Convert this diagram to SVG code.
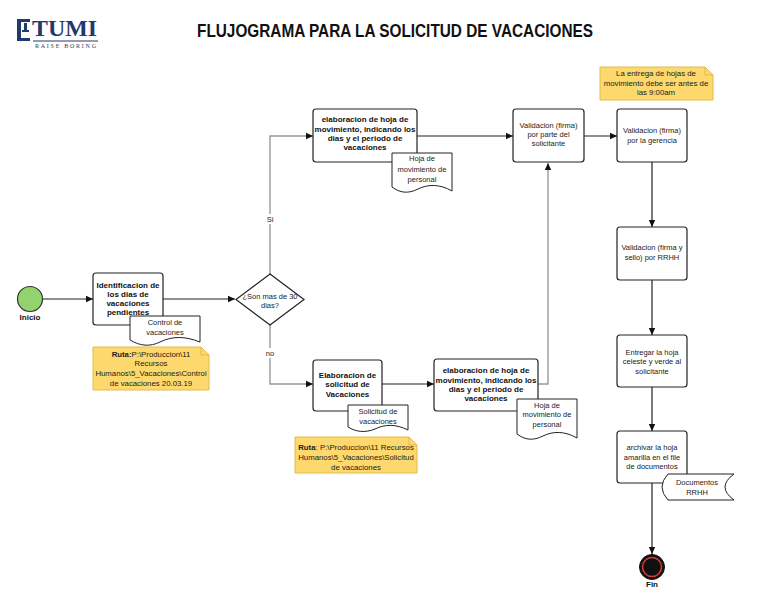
<svg xmlns="http://www.w3.org/2000/svg" width="768" height="592" viewBox="0 0 768 592">
<defs>
<marker id="arr" markerWidth="8" markerHeight="8" refX="7" refY="4" orient="auto" markerUnits="userSpaceOnUse">
<path d="M0,0.8 L7,4 L0,7.2 Z" fill="#111"/>
</marker>
<linearGradient id="hl" x1="0" x2="1" y1="0" y2="0">
<stop offset="0" stop-color="#bbb"/>
<stop offset="0.5" stop-color="#888"/>
<stop offset="1" stop-color="#ccc"/>
</linearGradient>
<style>
.box{fill:#fff;stroke:#222;stroke-width:1.2}
.doc{fill:#fff;stroke:#222;stroke-width:1}
.note{fill:#fdd86c;stroke:#e0bc52;stroke-width:1}
.b{font-family:"Liberation Sans",Arial,sans-serif;font-size:8px;font-weight:bold;fill:#111;text-anchor:middle}
.t{font-family:"Liberation Sans",Arial,sans-serif;font-size:7.5px;fill:#222;text-anchor:middle}
.n{font-family:"Liberation Sans",Arial,sans-serif;font-size:7.8px;fill:#222;text-anchor:middle}
.c{fill:none;stroke:#222;stroke-width:1.2}
.g{fill:none;stroke:#999;stroke-width:1.4}
</style>
</defs>
<rect width="768" height="592" fill="#fff"/>

<g id="header">
<g fill="#1f3a6b">
<rect x="17" y="19" width="4" height="19"/>
<rect x="17" y="19" width="13" height="3"/>
<rect x="24" y="23" width="3" height="7"/>
<rect x="22" y="30" width="7" height="2"/>
<rect x="17" y="38" width="13" height="3"/>
</g>
<text x="32" y="36" font-family="'Liberation Serif','Times New Roman',serif" font-size="24" font-weight="bold" fill="#1f3a6b" textLength="65" lengthAdjust="spacingAndGlyphs">TUMI</text>
<line x1="33" y1="41" x2="98" y2="41" stroke="#1f3a6b" stroke-width="1"/>
<text x="35" y="47.5" font-family="'Liberation Serif','Times New Roman',serif" font-size="6" fill="#1f3a6b" textLength="61" lengthAdjust="spacing">RAISE BORING</text>
<line x1="99" y1="47" x2="752" y2="47" stroke="url(#hl)" stroke-width="1.5"/>
<text x="395" y="37" font-family="'Liberation Sans',Arial,sans-serif" font-size="18" font-weight="bold" fill="#111" text-anchor="middle" textLength="396" lengthAdjust="spacingAndGlyphs">FLUJOGRAMA PARA LA SOLICITUD DE VACACIONES</text>
</g>

<g id="connectors">
<path class="c" d="M43,299 H93" marker-end="url(#arr)"/>
<path class="c" d="M163,299 H235" marker-end="url(#arr)"/>
<path class="g" d="M270,274 V136 H313" marker-end="url(#arr)"/>
<path class="g" d="M270,325 V384 H313" marker-end="url(#arr)"/>
<path class="c" d="M417,136 H513" marker-end="url(#arr)"/>
<path class="c" d="M584,136 H617" marker-end="url(#arr)"/>
<path class="c" d="M652,162 V227" marker-end="url(#arr)"/>
<path class="c" d="M652,280 V335" marker-end="url(#arr)"/>
<path class="c" d="M652,387 V431" marker-end="url(#arr)"/>
<path class="c" d="M652,483 V554" marker-end="url(#arr)"/>
<path class="c" d="M382,384 H434" marker-end="url(#arr)"/>
<path class="g" d="M538,384 H548 V163" marker-end="url(#arr)"/>
<rect x="263" y="214" width="14" height="10" fill="#fff"/>
<text class="t" x="270" y="222">Si</text>
<rect x="262" y="348" width="16" height="10" fill="#fff"/>
<text class="t" x="270" y="356">no</text>
</g>

<g id="inicio">
<circle cx="30" cy="299" r="12.5" fill="#92d36e" stroke="#333" stroke-width="1.2"/>
<text class="b" x="30" y="320">Inicio</text>
</g>

<g id="identificacion">
<rect class="box" x="93" y="273" width="70" height="52" rx="3"/>
<text class="b" x="128" y="288">Identificacion de</text>
<text class="b" x="128" y="297">los dias  de</text>
<text class="b" x="128" y="306">vacaciones</text>
<text class="b" x="128" y="315">pendientes</text>
</g>

<g id="doc-control">
<path class="doc" d="M130,316 H200 V342 C185,336 172,336 160,342 C150,347 140,346 130,340 Z"/>
<text class="t" x="165" y="325">Control de</text>
<text class="t" x="165" y="335">vacaciones</text>
</g>

<g id="note-control">
<path class="note" d="M93,347 H201 L209,355 V390 H93 Z"/>
<path d="M201,347 V355 H209" fill="none" stroke="#e0bc52" stroke-width="1"/>
<text class="n" x="151" y="357"><tspan font-weight="bold">Ruta:</tspan>P:\Produccion\11</text>
<text class="n" x="151" y="366">Recursos</text>
<text class="n" x="151" y="376">Humanos\5_Vacaciones\Control</text>
<text class="n" x="151" y="386">de vacaciones 20.03.19</text>
</g>

<g id="decision">
<path d="M270,274 L304,299.5 L270,325 L236,299.5 Z" fill="#fff" stroke="#222" stroke-width="1.2"/>
<text class="t" x="270" y="299">¿Son mas de 30</text>
<text class="t" x="270" y="308">dias?</text>
</g>

<g id="elab-hoja-1">
<rect class="box" x="313" y="109" width="104" height="53" rx="3"/>
<text class="b" x="365" y="122">elaboracion de hoja de</text>
<text class="b" x="365" y="132">movimiento, indicando los</text>
<text class="b" x="365" y="141">dias y el periodo de</text>
<text class="b" x="365" y="150">vacaciones</text>
</g>

<g id="doc-hoja-1">
<path class="doc" d="M392,153 H452 V191 C440,184 428,184 418,189 C408,194 400,193 392,187 Z"/>
<text class="t" x="422" y="161">Hoja de</text>
<text class="t" x="422" y="172">movimiento de</text>
<text class="t" x="422" y="182">personal</text>
</g>

<g id="val-solicitante">
<rect class="box" x="513" y="109" width="71" height="53" rx="3"/>
<text class="t" x="548.5" y="127.5">Validacion (firma)</text>
<text class="t" x="548.5" y="137">por parte del</text>
<text class="t" x="548.5" y="146">solicitante</text>
</g>

<g id="note-entrega">
<path class="note" d="M600,67 H705 L713,75 V100 H600 Z"/>
<path d="M705,67 V75 H713" fill="none" stroke="#e0bc52" stroke-width="1"/>
<text class="n" x="656" y="76">La entrega de hojas de</text>
<text class="n" x="656" y="86">movimiento debe ser antes de</text>
<text class="n" x="656" y="95">las 9:00am</text>
</g>

<g id="val-gerencia">
<rect class="box" x="617" y="109" width="70" height="53" rx="3"/>
<text class="t" x="652" y="133">Validacion (firma)</text>
<text class="t" x="652" y="143">por la gerencia</text>
</g>

<g id="val-rrhh">
<rect class="box" x="617" y="227" width="70" height="53" rx="3"/>
<text class="t" x="652" y="250">Validacion (firma y</text>
<text class="t" x="652" y="260">sello) por RRHH</text>
</g>

<g id="entregar">
<rect class="box" x="617" y="335" width="70" height="52" rx="3"/>
<text class="t" x="652" y="355">Entregar la hoja</text>
<text class="t" x="652" y="364">celeste y verde al</text>
<text class="t" x="652" y="374">solicitante</text>
</g>

<g id="archivar">
<rect class="box" x="617" y="431" width="70" height="52" rx="3"/>
<text class="t" x="652" y="450">archivar la hoja</text>
<text class="t" x="652" y="460">amarilla en el file</text>
<text class="t" x="652" y="469">de documentos</text>
</g>

<g id="documentos-rrhh">
<path class="doc" d="M668,474 H734 Q716,487 734,500 H668 Q656,487 668,474 Z"/>
<text class="t" x="697" y="485">Documentos</text>
<text class="t" x="697" y="495">RRHH</text>
</g>

<g id="fin">
<circle cx="652" cy="567" r="12.5" fill="#111" stroke="#111" stroke-width="1"/>
<circle cx="652" cy="567" r="9.5" fill="#111" stroke="#d23a3a" stroke-width="1.6"/>
<text class="b" x="652" y="587">Fin</text>
</g>

<g id="elab-solicitud">
<rect class="box" x="313" y="360" width="69" height="51" rx="3"/>
<text class="b" x="347.5" y="378">Elaboracion de</text>
<text class="b" x="347.5" y="387">solicitud de</text>
<text class="b" x="347.5" y="397">Vacaciones</text>
</g>

<g id="doc-solicitud">
<path class="doc" d="M348,405 H408 V430 C396,424 385,424 375,429 C365,433 356,432 348,427 Z"/>
<text class="t" x="378" y="414">Solicitud de</text>
<text class="t" x="378" y="424">vacaciones</text>
</g>

<g id="note-solicitud">
<path class="note" d="M295,437 H409 L417,445 V473 H295 Z"/>
<path d="M409,437 V445 H417" fill="none" stroke="#e0bc52" stroke-width="1"/>
<text class="n" x="356" y="450"><tspan font-weight="bold">Ruta</tspan>: P:\Produccion\11 Recursos</text>
<text class="n" x="356" y="460">Humanos\5_Vacaciones\Solicitud</text>
<text class="n" x="356" y="470">de vacaciones</text>
</g>

<g id="elab-hoja-2">
<rect class="box" x="434" y="359" width="104" height="52" rx="3"/>
<text class="b" x="486" y="373">elaboracion de hoja de</text>
<text class="b" x="486" y="383">movimiento, indicando los</text>
<text class="b" x="486" y="392">dias y el periodo de</text>
<text class="b" x="486" y="401">vacaciones</text>
</g>

<g id="doc-hoja-2">
<path class="doc" d="M517,399 H577 V438 C565,431 553,431 543,436 C533,441 525,440 517,434 Z"/>
<text class="t" x="547" y="408">Hoja de</text>
<text class="t" x="547" y="417">movimiento de</text>
<text class="t" x="547" y="427">personal</text>
</g>
</svg>
